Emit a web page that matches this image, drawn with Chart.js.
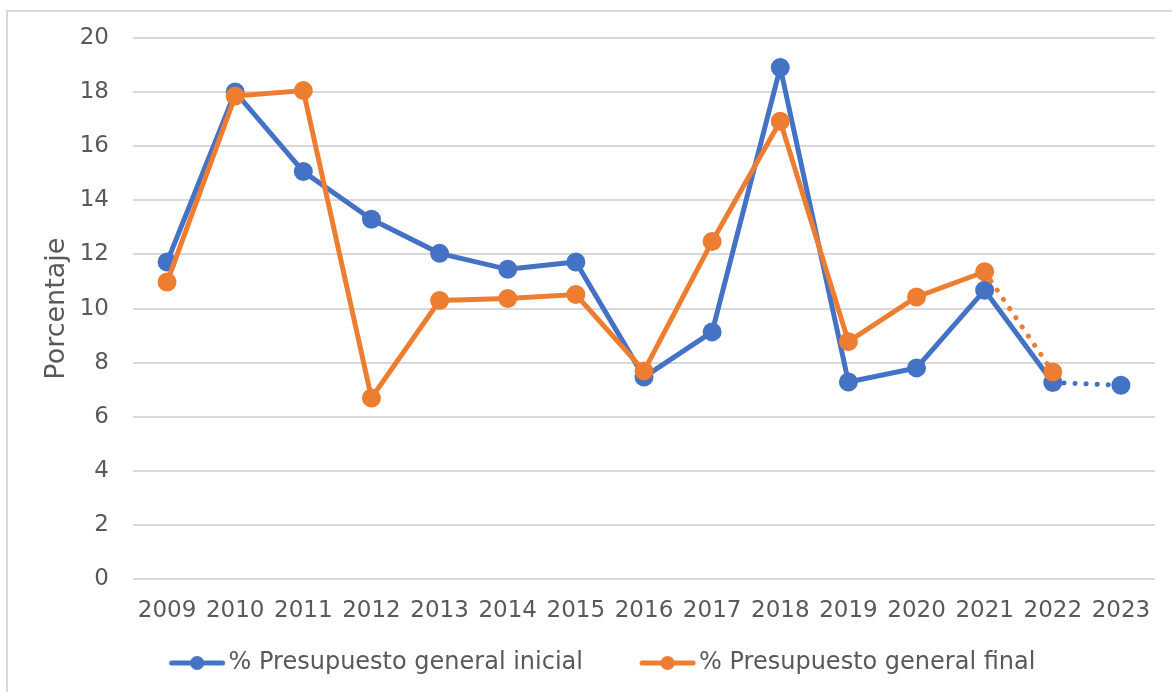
<!DOCTYPE html>
<html>
<head>
<meta charset="utf-8">
<script src="https://cdn.jsdelivr.net/npm/chart.js@4.4.1/dist/chart.umd.min.js"></script>
<style>
    html, body { margin: 0; padding: 0; background: #fff; }
    #wrap { position: relative; width: 1172px; height: 692px; }
    #frame { position: absolute; left: 6px; top: 10px; width: 1180px; height: 700px; border: 2px solid #d9d9d9; box-sizing: border-box; }
    canvas { position: absolute; left: 0; top: 0; }
</style>
</head>
<body>
<div id="wrap">
    <div id="frame"></div>
    <canvas id="chart" width="1172" height="692"></canvas>
</div>
<script>
const years = ['2009', '2010', '2011', '2012', '2013', '2014', '2015', '2016', '2017', '2018', '2019', '2020', '2021', '2022', '2023'];
const inicial = [11.72, 18.0, 15.06, 13.3, 12.04, 11.45, 11.72, 7.47, 9.14, 18.9, 7.29, 7.81, 10.68, 7.27, 7.17];
const final = [10.98, 17.85, 18.05, 6.7, 10.3, 10.37, 10.52, 7.7, 12.48, 16.92, 8.78, 10.43, 11.36, 7.66, null];
const yTicks = [0, 2, 4, 6, 8, 10, 12, 14, 16, 18, 20];

const BLUE = '#4472C4';
const ORANGE = '#ED7D31';
const TEXT = '#595959';
const FONT = "'DejaVu Sans', sans-serif";

// legend marker: short thick line with a dot, pushed right so it sits close to the text
function legendMark(color) {
    const c = document.createElement('canvas');
    c.width = 80;
    c.height = 16;
    const g = c.getContext('2d');
    g.strokeStyle = color;
    g.lineWidth = 5;
    g.lineCap = 'round';
    g.beginPath();
    g.moveTo(24, 8);
    g.lineTo(75, 8);
    g.stroke();
    g.fillStyle = color;
    g.beginPath();
    g.arc(49.5, 8, 7, 0, Math.PI * 2);
    g.fill();
    return c;
}

// dotted segment from index `from` on
const dotted = (from) => (ctx) => ctx.p0DataIndex >= from ? [0.1, 11] : undefined;

new Chart(document.getElementById('chart'), {
    type: 'line',
    data: {
        labels: years,
        datasets: [
            {
                label: '% Presupuesto general inicial',
                data: inicial,
                borderColor: BLUE,
                backgroundColor: BLUE,
                borderWidth: 5,
                borderCapStyle: 'round',
                pointRadius: 7,
                pointHoverRadius: 7,
                pointStyle: 'circle',
                tension: 0,
                order: 1,
                segment: { borderDash: dotted(13) }
            },
            {
                label: '% Presupuesto general final',
                data: final,
                borderColor: ORANGE,
                backgroundColor: ORANGE,
                borderWidth: 5,
                borderCapStyle: 'round',
                pointRadius: 7,
                pointHoverRadius: 7,
                pointStyle: 'circle',
                tension: 0,
                order: 0,
                segment: { borderDash: dotted(12) }
            }
        ]
    },
    options: {
        responsive: false,
        animation: false,
        layout: { padding: { left: 39, right: 17, top: 36, bottom: 7 } },
        plugins: {
            tooltip: { enabled: false },
            legend: {
                position: 'bottom',
                labels: {
                    usePointStyle: true,
                    pointStyleWidth: 58,
                    padding: 8,
                    color: TEXT,
                    font: { family: FONT, size: 24 },
                    // trailing spaces on the first item widen the gap between the two entries
                    generateLabels: (chart) => chart.data.datasets.map((ds, i) => ({
                        text: i === 0 ? ds.label + '     ' : ds.label,
                        pointStyle: legendMark(ds.borderColor),
                        fontColor: TEXT,
                        lineWidth: 0,
                        datasetIndex: i
                    }))
                }
            }
        },
        scales: {
            x: {
                offset: true,
                grid: { display: false, drawTicks: false },
                border: { display: false },
                ticks: { color: TEXT, font: { family: FONT, size: 23 }, padding: 18, maxRotation: 0, autoSkip: false }
            },
            y: {
                min: 0,
                max: 20,
                afterBuildTicks: (scale) => { scale.ticks = yTicks.map(v => ({ value: v })); },
                afterFit: (scale) => { scale.width = 94; },
                grid: { color: '#d9d9d9', lineWidth: 2, drawTicks: false },
                border: { display: false },
                ticks: { color: TEXT, font: { family: FONT, size: 23 }, padding: 24 },
                title: {
                    display: true,
                    text: 'Porcentaje',
                    color: TEXT,
                    font: { family: FONT, size: 27 },
                    padding: { top: 2, bottom: 4 }
                }
            }
        }
    }
});
</script>
</body>
</html>
